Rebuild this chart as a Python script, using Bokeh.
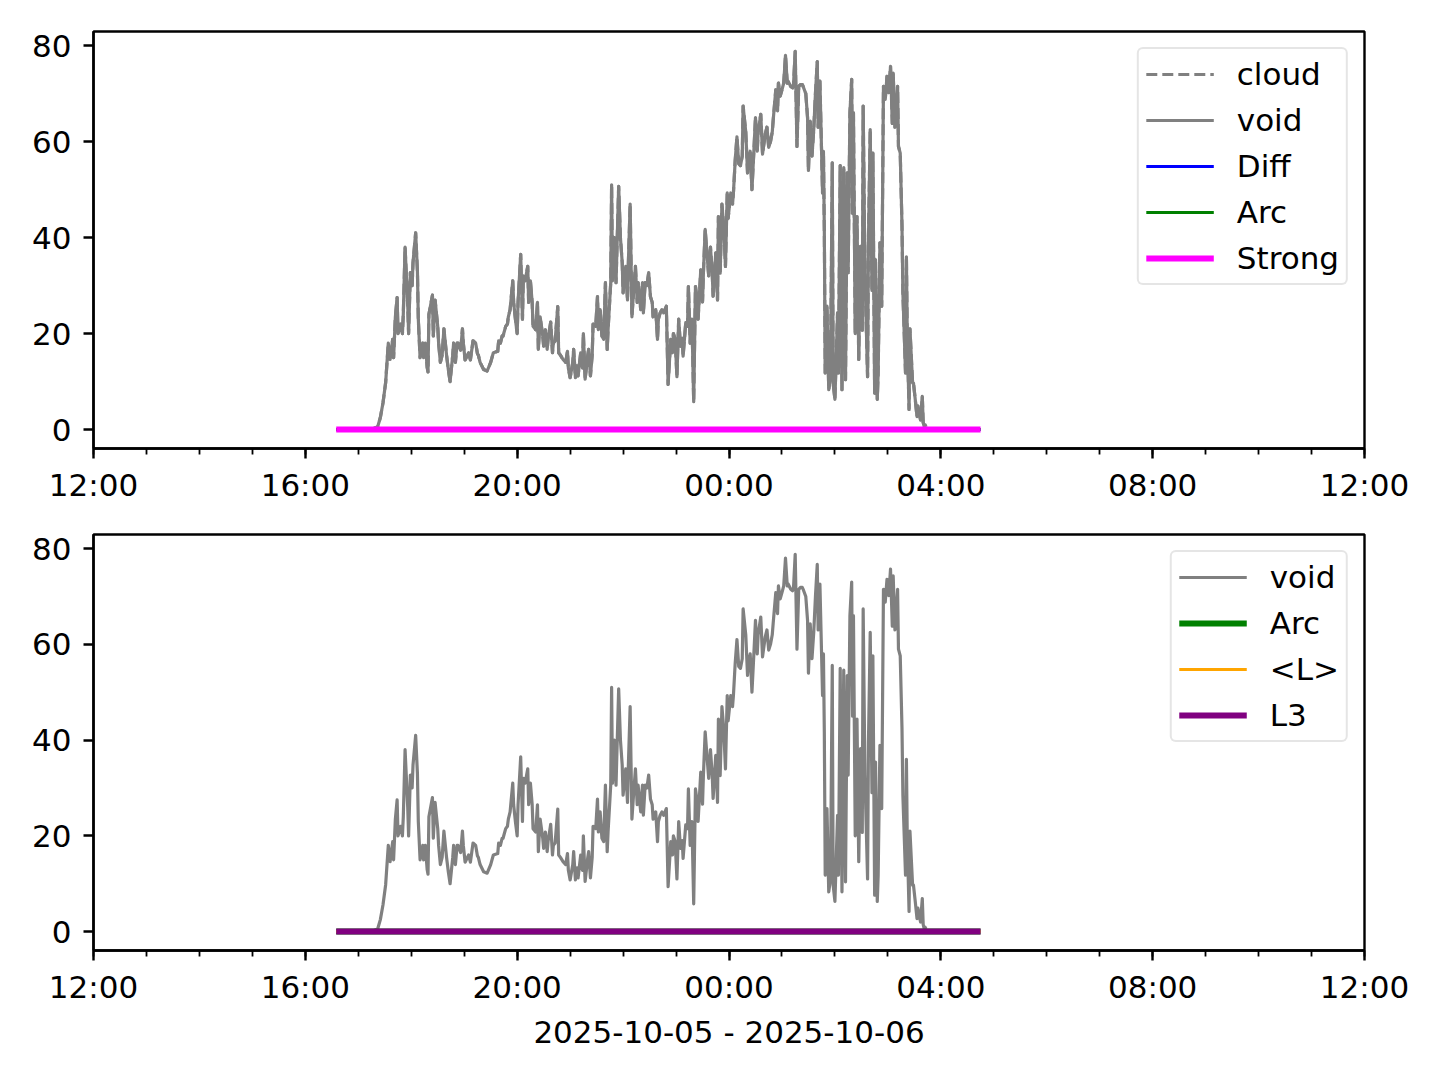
import pandas as pd
from bokeh.plotting import figure
from bokeh.layouts import column
from bokeh.models import Range1d, FixedTicker, DatetimeTickFormatter, Legend, LegendItem, ColumnDataSource
from bokeh.embed import file_html
from bokeh.resources import INLINE

# ---------------- data ----------------
series_start = "2025-10-05 16:00"
# minutes after 16:00 on 2025-10-05
void_minutes = [
    35, 45, 55, 65, 75, 82, 85, 88, 91, 94,
    96, 99, 100, 102, 104, 105, 108, 110, 111, 113,
    116, 117, 119, 121, 122, 125, 127, 128, 130, 133,
    134, 136, 138, 139, 140, 144, 145, 147, 150, 151,
    153, 155, 157, 160, 162, 164, 167, 168, 170, 172,
    173, 176, 178, 179, 181, 185, 187, 190, 193, 195,
    196, 198, 202, 206, 210, 213, 218, 219, 221, 223,
    224, 227, 229, 230, 232, 235, 236, 238, 240, 241,
    244, 246, 247, 249, 252, 253, 255, 257, 258, 261,
    263, 264, 266, 269, 270, 272, 274, 275, 278, 280,
    281, 283, 286, 287, 289, 292, 295, 297, 298, 300,
    303, 304, 306, 308, 309, 312, 314, 315, 317, 320,
    321, 323, 325, 326, 329, 331, 332, 334, 336, 338,
    340, 342, 343, 346, 347, 348, 350, 352, 355, 357,
    359, 360, 363, 365, 366, 368, 370, 372, 374, 376,
    377, 380, 382, 383, 385, 387, 389, 391, 393, 394,
    397, 399, 400, 402, 404, 406, 409, 411, 414, 416,
    417, 419, 421, 423, 425, 427, 428, 431, 433, 434,
    436, 438, 440, 442, 444, 445, 448, 450, 451, 453,
    455, 457, 459, 461, 462, 465, 467, 468, 470, 472,
    474, 476, 478, 479, 482, 484, 485, 487, 489, 491,
    493, 495, 496, 499, 501, 502, 504, 506, 508, 510,
    512, 513, 516, 518, 519, 521, 523, 525, 527, 529,
    530, 533, 535, 536, 538, 540, 542, 544, 546, 547,
    550, 552, 553, 555, 557, 559, 561, 563, 564, 567,
    569, 570, 572, 574, 576, 578, 580, 581, 583, 586,
    587, 588, 589, 591, 593, 595, 597, 598, 600, 603,
    604, 606, 608, 610, 612, 614, 615, 617, 619, 620,
    621, 623, 625, 627, 629, 631, 632, 634, 637, 638,
    640, 642, 643, 645, 646, 648, 649, 651, 653, 655,
    657, 659, 661, 663, 665, 666, 668, 671, 672, 674,
    676, 677, 680, 681, 682, 684, 685, 688, 689, 691,
    693, 694, 697, 699, 700, 701, 704,
]
void_values = [
    0, 0, 0, 0, 0, 0.6, 2.5, 5.6, 9.8, 18,
    14.6, 18.8, 15, 23.5, 27.5, 20, 22, 20, 24, 38,
    26, 20, 32.7, 30, 34.8, 41, 33, 23, 15, 18,
    15, 18, 13, 12, 24, 28, 19.5, 27, 21.5, 18,
    14, 15.5, 21, 15.5, 12.5, 10, 15.5, 18, 14, 18,
    18, 16.5, 21, 18, 14.5, 16, 14.5, 18.5, 18, 15.8,
    15.5, 14, 12.5, 12.2, 14, 16, 16.3, 18.5, 18, 19.5,
    19.5, 21.5, 22, 23.5, 25, 31, 26.5, 23, 20, 26.5,
    36.5, 23, 32, 31, 34, 26.5, 31, 26.5, 21.5, 20.8,
    26.5, 16.7, 23.5, 19.5, 17.4, 20.8, 16.7, 18.8, 22.4, 16,
    18, 18.5, 25.6, 16, 15.5, 14.6, 14, 16.3, 12.8, 10.8,
    14, 16.7, 10.8, 13.3, 11.2, 16, 12.8, 20, 10.5, 15.5,
    16.7, 11.2, 15.5, 22, 21.5, 27.7, 20.8, 25, 19.5, 18.8,
    30.6, 16.7, 20.8, 30.6, 51, 31, 40, 30.6, 50.7, 40,
    34.8, 28.5, 34, 27, 34.8, 47, 23.5, 29, 34, 26.5,
    30.6, 25, 30.6, 24.3, 30.6, 30, 32.7, 27.7, 26.5, 23.5,
    25, 18.8, 23, 24.3, 25, 24.3, 25.7, 9.4, 18.8, 16,
    20, 18.8, 11, 23, 17.4, 19, 15.3, 22.3, 21.5, 29.8,
    18, 23, 5.8, 29.8, 27, 23, 33.3, 26.6, 32.6, 41.7,
    36.8, 32, 38, 32.6, 27.8, 36.8, 27, 44.4, 32.6, 47,
    42.4, 34, 49.3, 44, 49.3, 47, 49.3, 56, 61, 55.4,
    55, 57, 67.4, 62, 53.5, 56, 58, 50, 57.4, 65,
    58, 62, 65.7, 57.4, 58.8, 61.5, 63, 58.8, 60, 62,
    64.3, 70.8, 66.4, 72.2, 69.5, 70.8, 72.2, 78, 72.2, 72.6,
    71.5, 71.2, 71.5, 78.8, 59, 71.5, 71.9, 71.9, 71.5, 70,
    65, 54, 64.3, 57, 62.5, 70.2, 76.7, 63, 72.6, 49.3,
    58, 41.7, 11.8, 25.7, 8.3, 11, 55.6, 9.7, 6.3, 24.3,
    11.8, 55, 8.3, 54.6, 10.4, 53.5, 32.7, 66, 73, 45,
    66, 20, 44.4, 14.6, 38.2, 20.7, 67.4, 32.7, 11, 39.6,
    62.5, 29, 57.6, 7.6, 35.4, 6.3, 11.8, 38.9, 25.7, 71.5,
    68.8, 73.6, 70.2, 75.7, 63.8, 74.3, 63, 71.5, 59, 57.6,
    42.4, 28.5, 11.8, 36, 19, 4.2, 21, 9.7, 9.7, 6.3,
    2.7, 4.9, 2, 6.9, 1.5, 0.7, 1,
]
cloud_values = void_values  # "cloud" coincides with "void"

# flat reference series (all zero over the run)
ref_times = ["2025-10-05 16:35", "2025-10-06 04:45"]
strong_values = [0, 0]
diff_values = [0, 0]
arc_values = [0, 0]
l_mean_values = [0, 0]
l3_values = [0, 0]

x_start = "2025-10-05 12:00"
x_end = "2025-10-06 12:00"
y_ticks = [0, 20, 40, 60, 80]
y_min, y_max = -3.95, 82.95
x_label = "2025-10-05 - 2025-10-06"

# ---------------- build ----------------
FONT = "DejaVu Sans"
FS = "31px"
GREY_W = 3.2

t0 = pd.Timestamp(series_start)
void_times = t0 + pd.to_timedelta(void_minutes, unit="min")
ref_ts = pd.to_datetime(ref_times)

src_void = ColumnDataSource(dict(t=void_times, v=void_values))
src_cloud = ColumnDataSource(dict(t=void_times, v=cloud_values))


def ms(ts):
    return pd.Timestamp(ts).value / 1e6


major = [ms(t) for t in pd.date_range(x_start, x_end, freq="4h")]
minor = [ms(t) for t in pd.date_range(x_start, x_end, freq="1h")]


def make_fig(min_top, frame_h, min_bottom):
    p = figure(
        output_backend="svg", toolbar_location=None,
        frame_width=1271, frame_height=frame_h,
        min_border_left=93, min_border_right=52,
        min_border_top=min_top, min_border_bottom=min_bottom,
        x_range=Range1d(pd.Timestamp(x_start), pd.Timestamp(x_end)),
        y_range=Range1d(y_min, y_max),
        x_axis_type="datetime",
    )
    p.grid.visible = False
    p.outline_line_color = "black"
    p.outline_line_width = 2.4
    p.background_fill_color = "white"
    p.border_fill_color = "white"

    p.xaxis.ticker = FixedTicker(ticks=major, minor_ticks=minor)
    p.xaxis.formatter = DatetimeTickFormatter(
        hours="%H:%M", hourmin="%H:%M", days="%H:%M", minutes="%H:%M",
        minsec="%H:%M", strip_leading_zeros=False,
    )
    p.yaxis.ticker = FixedTicker(ticks=y_ticks, minor_ticks=[])
    for ax in (p.xaxis, p.yaxis):
        ax.axis_line_width = 2.4
        ax.axis_line_color = "black"
        ax.major_tick_line_width = 2.4
        ax.major_tick_line_color = "black"
        ax.minor_tick_line_width = 1.8
        ax.minor_tick_line_color = "black"
        ax.major_tick_out = 10
        ax.major_tick_in = 0
        ax.minor_tick_out = 6
        ax.minor_tick_in = 0
        ax.major_label_text_font = FONT
        ax.major_label_text_font_size = FS
        ax.major_label_text_color = "black"
    p.xaxis.major_label_standoff = 8
    p.yaxis.major_label_standoff = 12
    return p


def style_legend(lg):
    lg.location = "top_right"
    lg.margin = 16
    lg.padding = 7
    lg.spacing = 10
    lg.glyph_width = 68
    lg.glyph_height = 34
    lg.label_height = 34
    lg.label_standoff = 23
    lg.label_text_font = FONT
    lg.label_text_font_size = FS
    lg.label_text_color = "black"
    lg.border_line_color = "#cccccc"
    lg.border_line_width = 2.5
    lg.background_fill_color = "white"
    lg.background_fill_alpha = 0.8
    if "border_radius" in lg.properties():
        lg.border_radius = 6


# top panel
p1 = make_fig(31, 417, 57)
r_cloud = p1.line("t", "v", source=src_cloud, line_color="#808080", line_width=GREY_W,
                  line_dash="11 5", line_join="round")
r_void1 = p1.line("t", "v", source=src_void, line_color="#808080", line_width=GREY_W,
                  line_join="round")
r_diff = p1.line(ref_ts, diff_values, line_color="#0000ff", line_width=3)
r_arc1 = p1.line(ref_ts, arc_values, line_color="#008000", line_width=3)
r_strong = p1.line(ref_ts, strong_values, line_color="#ff00ff", line_width=6)
lg1 = Legend(items=[
    LegendItem(label="cloud", renderers=[r_cloud]),
    LegendItem(label="void", renderers=[r_void1]),
    LegendItem(label="Diff", renderers=[r_diff]),
    LegendItem(label="Arc", renderers=[r_arc1]),
    LegendItem(label="Strong", renderers=[r_strong]),
])
style_legend(lg1)
p1.add_layout(lg1)

# bottom panel
p2 = make_fig(29, 416, 104)
r_void2 = p2.line("t", "v", source=src_void, line_color="#808080", line_width=GREY_W,
                  line_join="round")
r_arc2 = p2.line(ref_ts, arc_values, line_color="#008000", line_width=6)
r_lm = p2.line(ref_ts, l_mean_values, line_color="#ffa500", line_width=3)
r_l3 = p2.line(ref_ts, l3_values, line_color="#800080", line_width=6)
lg2 = Legend(items=[
    LegendItem(label="void", renderers=[r_void2]),
    LegendItem(label="Arc", renderers=[r_arc2]),
    LegendItem(label="<L>", renderers=[r_lm]),
    LegendItem(label="L3", renderers=[r_l3]),
])
style_legend(lg2)
p2.add_layout(lg2)
p2.xaxis.axis_label = x_label
p2.xaxis.axis_label_text_font = FONT
p2.xaxis.axis_label_text_font_size = FS
p2.xaxis.axis_label_text_font_style = "normal"
p2.xaxis.axis_label_text_color = "black"
p2.xaxis.axis_label_standoff = 6

layout = column(p1, p2)
open("out.html", "w").write(file_html(layout, INLINE))
